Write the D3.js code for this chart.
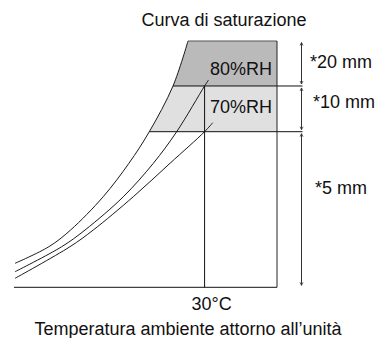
<!DOCTYPE html>
<html>
<head>
<meta charset="utf-8">
<script src="https://cdn.jsdelivr.net/npm/d3@7"></script>
<style>
  body { margin: 0; background: #fff; }
  text { font-family: "Liberation Sans", Arial, sans-serif; font-size: 18px; fill: #111; }
</style>
</head>
<body>
<svg id="chart" width="377" height="338"></svg>
<script>
// Saturation curves: [temperature, condensation index]
const curveSaturation = [[0.16, 9.74], [5.49, 16.48], [8.91, 23.26], [14.04, 36.78], [18.09, 50.35], [21.3, 63.18], [25.03, 81.73], [27.39, 100]];
const curve80 = [[0.16, 6.33], [7.51, 16.48], [11.18, 23.26], [17.21, 36.78], [21.93, 50.35], [25.61, 63.18], [30, 81.73], [30.62, 84.17]];
const curve70 = [[0.16, 3.65], [8.81, 16.48], [12.48, 23.26], [18.78, 36.78], [24.56, 50.35], [30, 63.18], [31.28, 66.83]];

// Zone limits on the vertical axis and their thickness labels
const zoneBounds = [0, 63.18, 81.73, 100];
const zoneLabels = ["*5 mm", "*10 mm", "*20 mm"];
const rhLabels = ["70%RH", "80%RH"];
const refTemp = 30;
const refTempLabel = "30°C";
const tempMax = 41.4;
const title = "Curva di saturazione";
const xTitle = "Temperatura ambiente attorno all’unità";

const svg = d3.select("#chart");
const x = d3.scaleLinear().domain([0, tempMax]).range([14, 277]);
const y = d3.scaleLinear().domain([0, 100]).range([287.3, 41]);
const dimX = x(tempMax) + 24.5;

const line = d3.line().x(d => x(d[0])).y(d => y(d[1])).curve(d3.curveCatmullRom);

// Shaded zones between the saturation curve and the right edge
const area = d3.area()
  .y(d => y(d[1]))
  .x0(d => x(d[0]))
  .x1(x(tempMax))
  .curve(d3.curveCatmullRom);

const defs = svg.append("defs");
const zoneFills = [null, "#e0e0e0", "#bababa"];
[1, 2].forEach(i => {
  defs.append("clipPath").attr("id", "zone" + i)
    .append("rect")
    .attr("x", 0).attr("width", 377)
    .attr("y", y(zoneBounds[i + 1]))
    .attr("height", y(zoneBounds[i]) - y(zoneBounds[i + 1]));
  svg.append("path")
    .datum(curveSaturation)
    .attr("d", area)
    .attr("fill", zoneFills[i])
    .attr("clip-path", `url(#zone${i})`);
});

// Top edge of the upper zone
const satTop = curveSaturation[curveSaturation.length - 1];
svg.append("line")
  .attr("x1", x(satTop[0])).attr("x2", x(tempMax))
  .attr("y1", y(100)).attr("y2", y(100))
  .attr("stroke", "#555").attr("stroke-width", 1.2);

// Curves
[curveSaturation, curve80, curve70].forEach(c => {
  svg.append("path").datum(c).attr("d", line)
    .attr("fill", "none").attr("stroke", "#1a1a1a").attr("stroke-width", 1);
});

// Zone boundary lines, from the saturation curve to the dimension line
[zoneBounds[1], zoneBounds[2]].forEach(v => {
  const p = curveSaturation.find(d => d[1] === v);
  svg.append("line")
    .attr("x1", x(p[0])).attr("x2", dimX + 1)
    .attr("y1", y(v)).attr("y2", y(v))
    .attr("stroke", "#111").attr("stroke-width", 1);
});

// Right edge and baseline
svg.append("line")
  .attr("x1", x(tempMax)).attr("x2", x(tempMax))
  .attr("y1", y(100)).attr("y2", y(0))
  .attr("stroke", "#222").attr("stroke-width", 1);
svg.append("line")
  .attr("x1", x(0)).attr("x2", x(tempMax))
  .attr("y1", y(0)).attr("y2", y(0))
  .attr("stroke", "#111").attr("stroke-width", 1);

// Reference temperature line
svg.append("line")
  .attr("x1", x(refTemp)).attr("x2", x(refTemp))
  .attr("y1", y(zoneBounds[2])).attr("y2", y(0))
  .attr("stroke", "#111").attr("stroke-width", 1);

// Dimension line segments with small arrow heads
const arrow = (px, py, dir) => `M${px - 1.5},${py - 3 * dir}L${px},${py}L${px + 1.5},${py - 3 * dir}`;
for (let i = 0; i < 3; i++) {
  const yTop = (i === 2 ? y(zoneBounds[3]) + 1.5 : y(zoneBounds[i + 1]) + 2);
  const yBot = (i === 0 ? y(zoneBounds[0]) - 2 : y(zoneBounds[i]) - 2);
  svg.append("line")
    .attr("x1", dimX).attr("x2", dimX).attr("y1", yTop).attr("y2", yBot)
    .attr("stroke", "#333").attr("stroke-width", 1);
  svg.append("path").attr("d", arrow(dimX, yTop, -1) + arrow(dimX, yBot, 1))
    .attr("fill", "none").attr("stroke", "#333").attr("stroke-width", 0.8);
}

// Zone thickness labels
const zoneLabelPos = [[315, 194], [313, 108], [310, 68]];
zoneLabels.forEach((t, i) => {
  svg.append("text").attr("x", zoneLabelPos[i][0]).attr("y", zoneLabelPos[i][1]).text(t);
});

// Humidity labels
svg.append("text").attr("x", 272).attr("y", 113).attr("text-anchor", "end").text(rhLabels[0]);
svg.append("text").attr("x", 272).attr("y", 75).attr("text-anchor", "end").text(rhLabels[1]);

// Titles
svg.append("text").attr("x", 224).attr("y", 26).attr("text-anchor", "middle").text(title);
svg.append("text").attr("x", x(refTemp) + 7).attr("y", 310).attr("text-anchor", "middle").text(refTempLabel);
svg.append("text").attr("x", 188).attr("y", 335).attr("text-anchor", "middle").text(xTitle);
</script>
</body>
</html>
